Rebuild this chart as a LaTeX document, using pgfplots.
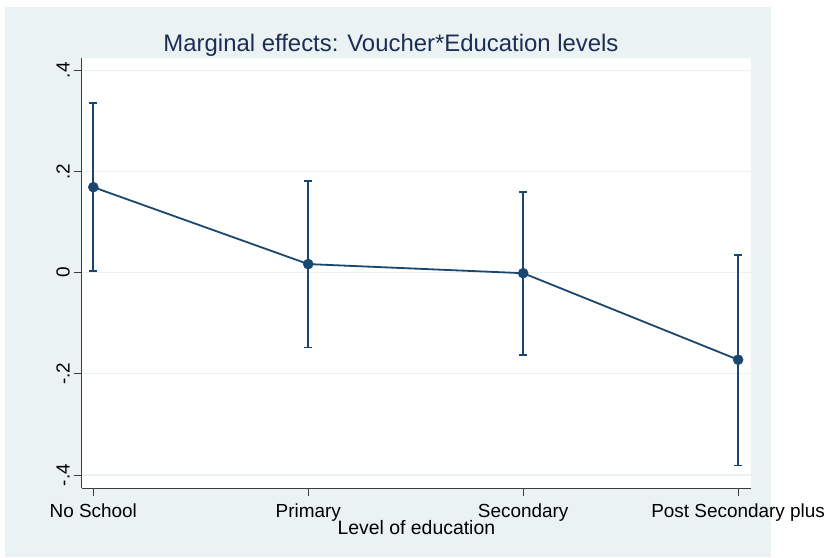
\documentclass[border=0pt]{standalone}
\usepackage{fontspec}
\setmainfont{Liberation Sans}
\usepackage{pgfplots}
\pgfplotsset{compat=1.18}
\definecolor{stbg}{RGB}{234,242,243}
\definecolor{stnavy}{RGB}{26,71,111}
\definecolor{sttitle}{RGB}{30,45,83}
\definecolor{stgrid}{RGB}{234,242,243}
\definecolor{staxis}{RGB}{60,60,60}
\begin{document}
\begin{tikzpicture}[x=1bp,y=1bp]
\path[fill=white] (0,0) rectangle (830,558);
\path[fill=stbg] (5,1) rectangle (771,551);
\begin{axis}[
  at={(81.7bp,70bp)}, anchor=south west,
  scale only axis, width=669.3bp, height=430bp,
  xmin=0.946, xmax=4.06, ymin=-0.4255, ymax=0.4243,
  axis background/.style={fill=white},
  axis x line*=bottom, axis y line*=left,
  axis line style={-, draw=staxis, line width=0.8bp},
  xtick={1,2,3,4},
  xticklabels={No School, Primary, Secondary, Post Secondary plus},
  ytick={-0.4,-0.2,0,0.2,0.4},
  yticklabels={-.4,-.2,0,.2,.4},
  tick align=outside, major tick length=8bp,
  tick style={draw=staxis, line width=0.8bp},
  ymajorgrids, grid style={stgrid, line width=1.2bp},
  xticklabel style={anchor=base, inner sep=0pt, font=\fontsize{19}{22}\selectfont},
  yticklabel style={rotate=90, anchor=base, inner sep=0pt, font=\fontsize{19}{22}\selectfont},
  xticklabel shift=22bp,
  yticklabel shift=4bp,
  xlabel={Level of education},
  xlabel style={at={(axis description cs:0.5,0)}, anchor=base, yshift=-47bp, inner sep=0pt, font=\fontsize{19.5}{22}\selectfont},
  clip=false,
]
\addplot[stnavy, line width=1.8bp, mark=*, mark size=5bp,
  mark options={fill=stnavy, draw=stnavy, line width=0.5bp},
  error bars/.cd, y dir=both, y explicit,
  error bar style={line width=1.8bp, draw=stnavy},
  error mark options={rotate=90, mark size=4bp, line width=1.8bp, draw=stnavy}]
coordinates {
  (1,0.169)  += (0,0.166) -= (0,0.166)
  (2,0.017)  += (0,0.164) -= (0,0.165)
  (3,-0.001) += (0,0.160) -= (0,0.161)
  (4,-0.172) += (0,0.207) -= (0,0.209)
};
\end{axis}
\node[anchor=base, text=sttitle, font=\fontsize{24}{28}\selectfont] at (391,506) {Marginal effects: Voucher*Education levels};
\pgfresetboundingbox
\useasboundingbox (0,0) rectangle (830,558);
\end{tikzpicture}
\end{document}
